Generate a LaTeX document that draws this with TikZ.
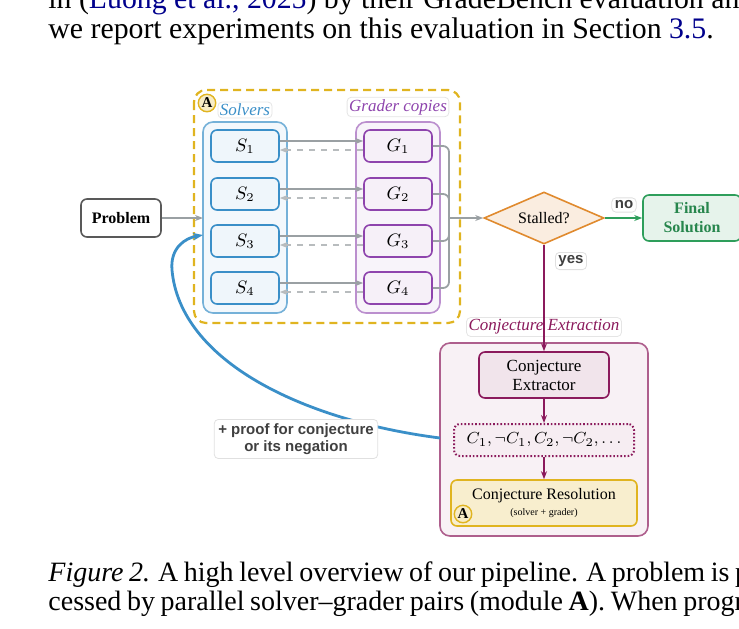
\documentclass[tikz,border=0pt]{standalone}
\usepackage{fontspec}
\setmainfont{Liberation Serif}
\newfontfamily\sansfont{Liberation Sans}
\usetikzlibrary{shapes.geometric,arrows.meta,positioning}
\definecolor{solblue}{HTML}{3A8FC8}
\definecolor{gradpurp}{HTML}{8E44AD}
\definecolor{conjpurp}{HTML}{8B1A5C}
\definecolor{ayellow}{HTML}{E0B420}
\definecolor{stallor}{HTML}{E08A2E}
\definecolor{fingreen}{HTML}{2E9E5B}
\definecolor{linegray}{HTML}{9AA0A3}
\tikzset{
  box/.style={draw, rounded corners=3pt, line width=0.8pt, align=center, inner sep=1pt},
  sbox/.style={box, draw=solblue, fill=solblue!8, minimum width=34pt, minimum height=16pt, font=\fontsize{9}{10}\selectfont},
  gbox/.style={box, draw=gradpurp, fill=gradpurp!8, minimum width=34pt, minimum height=16pt, font=\fontsize{9}{10}\selectfont},
  tag/.style={draw=black!12, fill=white, rounded corners=2pt, inner sep=1.5pt, font=\sansfont\bfseries\fontsize{7.5}{8.5}\selectfont, text=black!75},
  title/.style={draw=black!10, fill=white, rounded corners=2pt, inner sep=1pt, font=\itshape\fontsize{8.5}{9.5}\selectfont},
  fwd/.style={linegray, line width=0.9pt, -{Stealth[length=4pt]}},
  back/.style={linegray!70, line width=0.9pt, dashed, -{Stealth[length=4pt]}},
  amark/.style={circle, draw=ayellow, fill=ayellow!25, line width=0.7pt, inner sep=0.5pt, font=\bfseries\fontsize{7.5}{8}\selectfont},
  page/.style={anchor=base west, inner sep=0, font=\fontsize{14.4}{17}\selectfont}
}
\begin{document}
\begin{tikzpicture}[x=0.5pt,y=-0.5pt]
  \useasboundingbox (0,0) rectangle (739,628);
  \clip (0,0) rectangle (739,628);

  % page text
  \node[page, font=\fontsize{14.9}{17}\selectfont] (l0) at (48,8) {in (\textcolor{blue!55!black}{Luong et al., 2025}) by their GradeBench evaluation an};
  \node[page, font=\fontsize{14.9}{17}\selectfont] (l1) at (48,38) {we report experiments on this evaluation in Section \textcolor{blue!55!black}{3.5}.};
  \node[page, font=\fontsize{14}{17}\selectfont] (c1) at (48,581) {\spaceskip=0.2em\textit{Figure 2.} A high level overview of our pipeline. A problem is pro};
  \node[page, font=\fontsize{14}{17}\selectfont] (c2) at (48,610) {\spaceskip=0.2em cessed by parallel solver--grader pairs (module \textbf{A}). When progres};

  % module A
  \draw[ayellow, line width=1.1pt, dash pattern=on 4pt off 2.5pt, rounded corners=6pt] (194,90) rectangle (460,323);
  \node[amark] (a1) at (207,103) {A};
  \draw[solblue!70, fill=solblue!6, line width=0.8pt, rounded corners=5pt] (203,122) rectangle (287,313);
  \draw[gradpurp!60, fill=gradpurp!6, line width=0.8pt, rounded corners=5pt] (356,122) rectangle (440,313);
  \node[title, text=solblue] (solv) at (245,110) {Solvers};
  \node[title, text=gradpurp] (grad) at (398,107) {Grader copies};

  \foreach \i/\y in {1/146,2/194,3/241,4/288}{
    \node[sbox] (s\i) at (245,\y) {$S_\i$};
    \node[gbox] (g\i) at (398,\y) {$G_\i$};
    \draw[fwd] ([yshift=2.5pt]s\i.east) -- ([yshift=2.5pt]g\i.west);
    \draw[back] ([yshift=-2pt]g\i.west) -- ([yshift=-2pt]s\i.east);
  }
  \coordinate (m) at (449,218);
  \foreach \i in {1,...,4}
    \draw[linegray, line width=0.9pt, rounded corners=3pt] (g\i.east) -| (m);

  % problem and decision
  \node[box, draw=black!65, fill=white, minimum width=40pt, minimum height=19pt, font=\bfseries\fontsize{8}{9}\selectfont] (prob) at (121,218) {Problem};
  \draw[fwd] (prob) -- (203,218);
  \node[diamond, aspect=2.3, draw=stallor, fill=stallor!15, line width=0.8pt, minimum width=60pt, minimum height=26pt, inner sep=0pt, font=\fontsize{8}{9}\selectfont] (stall) at (544,218) {Stalled?};
  \draw[fwd] (m) -- (stall.west);
  \node[box, draw=fingreen, fill=fingreen!12, text=fingreen!85!black, minimum width=49pt, minimum height=23pt, font=\bfseries\fontsize{8}{9.5}\selectfont] (final) at (692,218) {Final\\Solution};
  \draw[fingreen, line width=0.9pt, -{Stealth[length=4pt]}] (stall.east) -- (final.west);
  \node[tag] (no) at (624,205) {no};

  % conjecture extraction
  \draw[conjpurp!70, fill=conjpurp!6, line width=0.8pt, rounded corners=5pt] (440,343) rectangle (648,536);
  \node[title, text=conjpurp] (cetitle) at (544,327) {Conjecture Extraction};
  \node[box, draw=conjpurp, fill=conjpurp!12, minimum width=65pt, minimum height=23pt, font=\fontsize{8.5}{9.5}\selectfont] (extr) at (544,375) {Conjecture\\Extractor};
  \draw[conjpurp, line width=0.9pt, -{Stealth[length=4pt]}] (stall.south) -- (extr.north);
  \node[tag] (yes) at (571,261) {yes};
  \node[box, draw=conjpurp, fill=conjpurp!8, densely dotted, line width=1pt, minimum width=90pt, minimum height=16pt, font=\fontsize{8.5}{9.5}\selectfont] (list) at (544,440) {$C_1, \neg C_1, C_2, \neg C_2, \ldots$};
  \node[box, draw=ayellow, fill=ayellow!22, minimum width=93pt, minimum height=23pt, font=\fontsize{8}{9}\selectfont] (res) at (544,503) {Conjecture Resolution\\[-1pt]{\fontsize{5}{5.5}\selectfont(solver + grader)}};
  \node[amark] (a2) at (463,514) {A};
  \draw[conjpurp, line width=0.9pt, -{Stealth[length=4pt]}] (extr) -- (list);
  \draw[conjpurp, line width=0.9pt, -{Stealth[length=4pt]}] (list) -- (res);

  % feedback loop
  \coordinate (ret) at (440,438);
  \draw[solblue, line width=1.4pt, -{Stealth[length=5pt]}] (ret) .. controls (300,420) and (180,360) .. (172,270) .. controls (170,248) and (185,238) .. (203,235);
  \node[tag, align=center, inner sep=2pt] (proof) at (296,439) {+ proof for conjecture\\or its negation};
\end{tikzpicture}
\end{document}
